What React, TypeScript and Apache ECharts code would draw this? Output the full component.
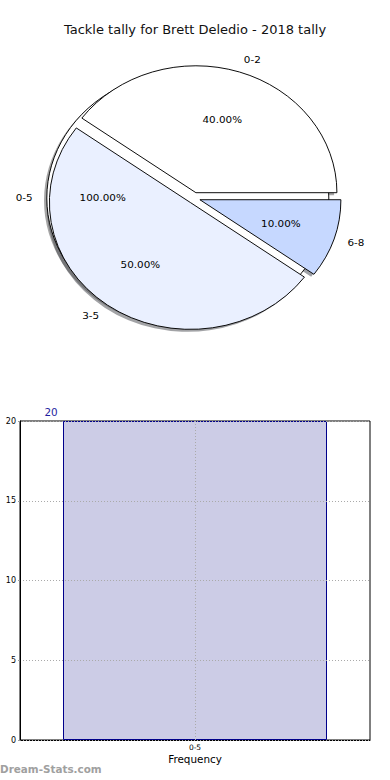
import { useEffect, useRef } from 'react';
import * as echarts from 'echarts';

// ---------- data ----------
const chartTitle = 'Tackle tally for Brett Deledio - 2018 tally';
const totalCategories = ['0-5'];
const totalValues = [20];
const rangeCategories = ['0-2', '3-5', '6-8'];
const rangeValues = [8, 10, 2];
const barCategories = ['0-5'];
const barValues = [20];
const yMin = 0;
const yMax = 20;
const yInterval = 5;
const xAxisName = 'Frequency';
const yAxisName = 'Tackle Tally';
const watermark = 'Dream-Stats.com';

// ---------- style ----------
const FONT = 'DejaVu Sans';
const totalColors = [[255, 255, 255]];
const rangeColors = [[255, 255, 255], [234, 240, 255], [198, 216, 255]];
const CX = 194;
const CY = 198;
const R = 141;
const EXPLODE = 6.2;
const SH_DX = -2.8;
const SH_DY = 2.8;

const rgb = (c: number[]) => `rgb(${c[0]},${c[1]},${c[2]})`;
const shadow = (c: number[]) =>
  `rgba(${Math.round(c[0] * 0.3)},${Math.round(c[1] * 0.3)},${Math.round(c[2] * 0.3)},0.5)`;

function pieBase(center: number[], radius: number) {
  return {
    type: 'pie',
    center,
    radius,
    startAngle: 0,
    clockwise: false,
    selectedMode: 'multiple',
    selectedOffset: EXPLODE,
    avoidLabelOverlap: false,
    silent: true,
    emphasis: { disabled: true },
    animation: false,
  };
}

function makeData(names: string[], values: number[], colors: number[][], kind: string) {
  return names.map((n, i) => {
    let color = rgb(colors[i]);
    if (kind === 'shadow') color = shadow(colors[i]);
    if (kind === 'label') color = 'rgba(0,0,0,0)';
    return {
      name: n,
      value: values[i],
      selected: true,
      itemStyle: { color },
      select: { itemStyle: { color } },
    };
  });
}

const labelText = {
  fontFamily: FONT,
  fontSize: 10.4,
  fontWeight: 'normal',
  color: '#000',
  textBorderWidth: 0,
  textShadowBlur: 0,
  overflow: 'none',
};

function shadowSeries(names: string[], values: number[], colors: number[][]) {
  return {
    ...pieBase([CX + SH_DX, CY + SH_DY], R),
    data: makeData(names, values, colors, 'shadow'),
    itemStyle: { borderWidth: 0 },
    label: { show: false },
    labelLine: { show: false },
  };
}

function mainSeries(names: string[], values: number[], colors: number[][]) {
  return {
    ...pieBase([CX, CY], R),
    data: makeData(names, values, colors, 'main'),
    itemStyle: { borderColor: '#000', borderWidth: 1 },
    select: { itemStyle: { borderColor: '#000', borderWidth: 1 } },
    label: {
      show: true,
      position: 'outside',
      formatter: '{b}',
      distanceToLabelLine: 0,
      ...labelText,
    },
    labelLine: { show: false, length: R * 0.1, length2: 0 },
  };
}

function pctSeries(names: string[], values: number[], colors: number[][]) {
  return {
    ...pieBase([CX, CY], R * 1.2 - 5),
    data: makeData(names, values, colors, 'label'),
    itemStyle: { borderWidth: 0 },
    label: {
      show: true,
      position: 'inside',
      formatter: (p: any) => `${p.percent.toFixed(2)}%`,
      ...labelText,
    },
    labelLine: { show: false },
  };
}

export default function App() {
  const barRef = useRef<HTMLDivElement>(null);
  const pieRef = useRef<HTMLDivElement>(null);

  useEffect(() => {
    const bar = echarts.init(barRef.current!, null, { renderer: 'svg' });
    bar.setOption({
      animation: false,
      title: {
        text: chartTitle,
        left: 'center',
        top: 18,
        textStyle: { fontFamily: FONT, fontSize: 13, fontWeight: 'normal', color: '#111' },
      },
      grid: {
        left: 20,
        right: 20,
        top: 421,
        bottom: 40,
        containLabel: false,
        outerBoundsMode: 'none',
        show: true,
        borderColor: '#000',
        borderWidth: 1,
        backgroundColor: 'transparent',
      },
      xAxis: {
        type: 'category',
        data: barCategories,
        axisLine: { show: true, lineStyle: { color: '#000' } },
        axisTick: { show: false },
        axisLabel: { fontFamily: FONT, fontSize: 7.5, color: '#000', margin: 3 },
        splitLine: { show: false },
        name: xAxisName,
        nameLocation: 'middle',
        nameGap: 14,
        nameTextStyle: { fontFamily: FONT, fontSize: 10.4, color: '#000' },
      },
      yAxis: {
        type: 'value',
        min: yMin,
        max: yMax,
        interval: yInterval,
        z: 3,
        axisLine: { show: true, lineStyle: { color: '#000' } },
        axisTick: { show: true, length: 2, lineStyle: { color: '#999' } },
        axisLabel: { fontFamily: FONT, fontSize: 8, color: '#000', margin: 4 },
        splitLine: { show: true, lineStyle: { type: [1, 2], color: '#aaa', width: 1 } },
        name: yAxisName,
        nameLocation: 'middle',
        nameGap: 17,
        nameTextStyle: { fontFamily: FONT, fontSize: 10.4, color: '#000' },
      },
      series: [
        {
          type: 'bar',
          data: barValues,
          barWidth: 264,
          silent: true,
          itemStyle: { color: '#ccccE6', borderColor: '#00008b', borderWidth: 1 },
          label: {
            show: true,
            position: [-12, -9],
            align: 'center',
            verticalAlign: 'middle',
            fontFamily: FONT,
            fontSize: 10.4,
            color: '#1f1fa0',
          },
          markLine: {
            silent: true,
            symbol: ['none', 'none'],
            label: { show: false },
            lineStyle: { type: [1, 2], color: '#aaa', width: 1 },
            data: [{ xAxis: barCategories[0] }],
          },
        },
      ],
      graphic: [
        {
          type: 'text',
          left: 0,
          top: 764,
          style: { text: watermark, fill: '#a0a0a0', font: `bold 10.4px "${FONT}"` },
        },
      ],
    });

    const pie = echarts.init(pieRef.current!, null, { renderer: 'svg' });
    pie.setOption({
      animation: false,
      series: [
        shadowSeries(totalCategories, totalValues, totalColors),
        shadowSeries(rangeCategories, rangeValues, rangeColors),
        mainSeries(totalCategories, totalValues, totalColors),
        mainSeries(rangeCategories, rangeValues, rangeColors),
        pctSeries(totalCategories, totalValues, totalColors),
        pctSeries(rangeCategories, rangeValues, rangeColors),
      ],
    });

    return () => {
      bar.dispose();
      pie.dispose();
    };
  }, []);

  return (
    <div
      style={{
        position: 'absolute',
        left: 0,
        top: 0,
        width: 390,
        height: 780,
        background: '#fff',
        overflow: 'hidden',
      }}
    >
      <div ref={barRef} style={{ position: 'absolute', left: 0, top: 0, width: 390, height: 780 }} />
      <div
        ref={pieRef}
        style={{
          position: 'absolute',
          left: 0,
          top: 0,
          width: 390,
          height: 400,
          transform: 'scaleY(0.9)',
          transformOrigin: `0px ${CY}px`,
        }}
      />
    </div>
  );
}
